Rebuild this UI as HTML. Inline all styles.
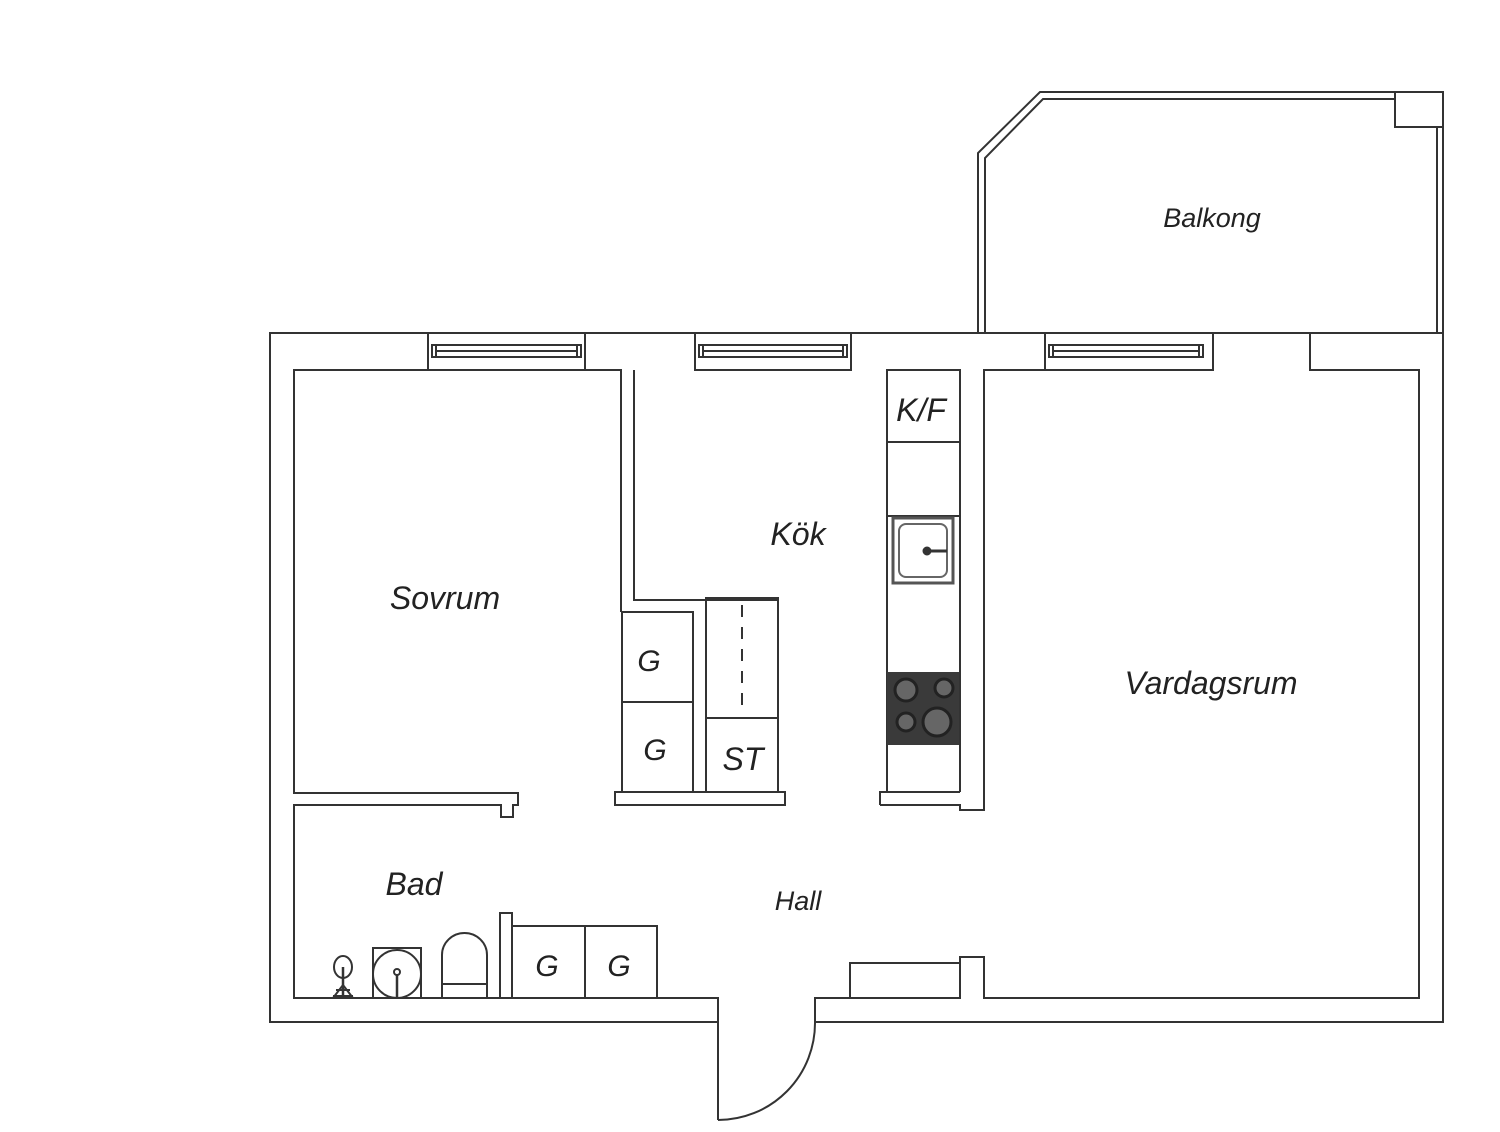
<!DOCTYPE html>
<html><head><meta charset="utf-8"><style>
html,body{margin:0;padding:0;background:#fff;}
svg{display:block;}
text{font-family:"Liberation Sans",sans-serif;font-style:italic;fill:#222;text-anchor:middle;}
</style></head><body>
<svg width="1500" height="1132" viewBox="0 0 1500 1132" xmlns="http://www.w3.org/2000/svg">
<g fill="none" stroke="#333" stroke-width="2">
<!-- balcony -->
<polyline points="978,333 978,153 1040,92 1443,92 1443,333"/>
<polyline points="985,333 985,158 1043,99 1395,99"/>
<rect x="1395" y="92" width="48" height="35"/>
<line x1="1437" y1="127" x2="1437" y2="333"/>
<!-- outer -->
<polyline points="718,1022 270,1022 270,333 1443,333 1443,1022 815,1022"/>
<!-- windows -->
<rect x="428" y="333" width="157" height="37"/>
<rect x="432" y="345" width="149" height="12"/><line x1="436" y1="345" x2="436" y2="357"/><line x1="577" y1="345" x2="577" y2="357"/><line x1="436" y1="351" x2="577" y2="351"/>
<rect x="695" y="333" width="156" height="37"/>
<rect x="699" y="345" width="148" height="12"/><line x1="703" y1="345" x2="703" y2="357"/><line x1="843" y1="345" x2="843" y2="357"/><line x1="703" y1="351" x2="843" y2="351"/>
<rect x="1045" y="333" width="168" height="37"/>
<rect x="1049" y="345" width="154" height="12"/><line x1="1053" y1="345" x2="1053" y2="357"/><line x1="1199" y1="345" x2="1199" y2="357"/><line x1="1053" y1="351" x2="1199" y2="351"/>
<!-- sovrum -->
<polyline points="621,612 621,370 294,370 294,793 518,793 518,805 513,805 513,817 501,817 501,805 294,805 294,998 718,998 718,1120"/>
<!-- kok -->
<polyline points="634,370 634,600 778,600"/>
<rect x="622" y="612" width="71" height="90"/>
<rect x="622" y="702" width="71" height="90"/>
<rect x="706" y="598" width="72" height="120"/>
<rect x="706" y="718" width="72" height="74"/>
<line x1="742" y1="605" x2="742" y2="715" stroke-dasharray="12,10"/>
<rect x="615" y="792" width="170" height="13"/>
<!-- right counter -->
<polyline points="887,792 887,370 960,370 960,792"/>
<line x1="887" y1="442" x2="960" y2="442"/>
<line x1="887" y1="516" x2="960" y2="516"/>
<rect x="893" y="518" width="60" height="65" stroke-width="3" stroke="#555"/>
<rect x="899" y="524" width="48" height="53" rx="7" stroke="#666"/>
<circle cx="927" cy="551" r="3.5" fill="#333"/><line x1="927" y1="551" x2="947" y2="551" stroke-width="3"/>
<polyline points="880,805 880,792 960,792"/>
<polyline points="880,805 960,805 960,810 984,810 984,370 1045,370"/>
<polyline points="1310,333 1310,370 1419,370 1419,998 984,998 984,957 960,957 960,998 815,998 815,1022"/>
<rect x="850" y="963" width="110" height="35"/>
<!-- door arc -->
<path d="M718,1120 A97,97 0 0 0 815,1022"/>
<!-- bad fixtures -->
<rect x="500" y="913" width="12" height="85"/>
<rect x="512" y="926" width="145" height="72"/>
<line x1="585" y1="926" x2="585" y2="998"/>
<path d="M442,998 V955 A22.5,22 0 0 1 487,955 V998" />
<line x1="442" y1="984" x2="487" y2="984"/>
<rect x="373" y="948" width="48" height="50"/>
<circle cx="397" cy="974" r="24"/>
<line x1="397" y1="974" x2="397" y2="998" stroke-width="2.5"/><circle cx="397" cy="972" r="3"/>
<ellipse cx="343" cy="967" rx="9" ry="11"/>
<line x1="343" y1="967" x2="343" y2="995" stroke-width="2.5"/>
<path d="M333,996 L353,996 M336,990 L350,990 M333,998 L343,985 L353,998"/>
</g>
<rect x="887" y="672" width="72" height="73" fill="#3a3a3a"/>
<g fill="#666" stroke="#222" stroke-width="3">
<circle cx="906" cy="690" r="11"/><circle cx="944" cy="688" r="9"/><circle cx="906" cy="722" r="9"/><circle cx="937" cy="722" r="14"/>
</g>
<text x="1212" y="227" font-size="27">Balkong</text>
<text x="445" y="609" font-size="32">Sovrum</text>
<text x="798" y="545" font-size="32">Kök</text>
<text x="1211" y="694" font-size="32">Vardagsrum</text>
<text x="414" y="895" font-size="32">Bad</text>
<text x="798" y="910" font-size="27">Hall</text>
<text x="921" y="421" font-size="32">K/F</text>
<text x="649" y="671" font-size="30">G</text>
<text x="655" y="760" font-size="30">G</text>
<text x="743" y="770" font-size="32">ST</text>
<text x="547" y="976" font-size="30">G</text>
<text x="619" y="976" font-size="30">G</text>
</svg>
</body></html>
